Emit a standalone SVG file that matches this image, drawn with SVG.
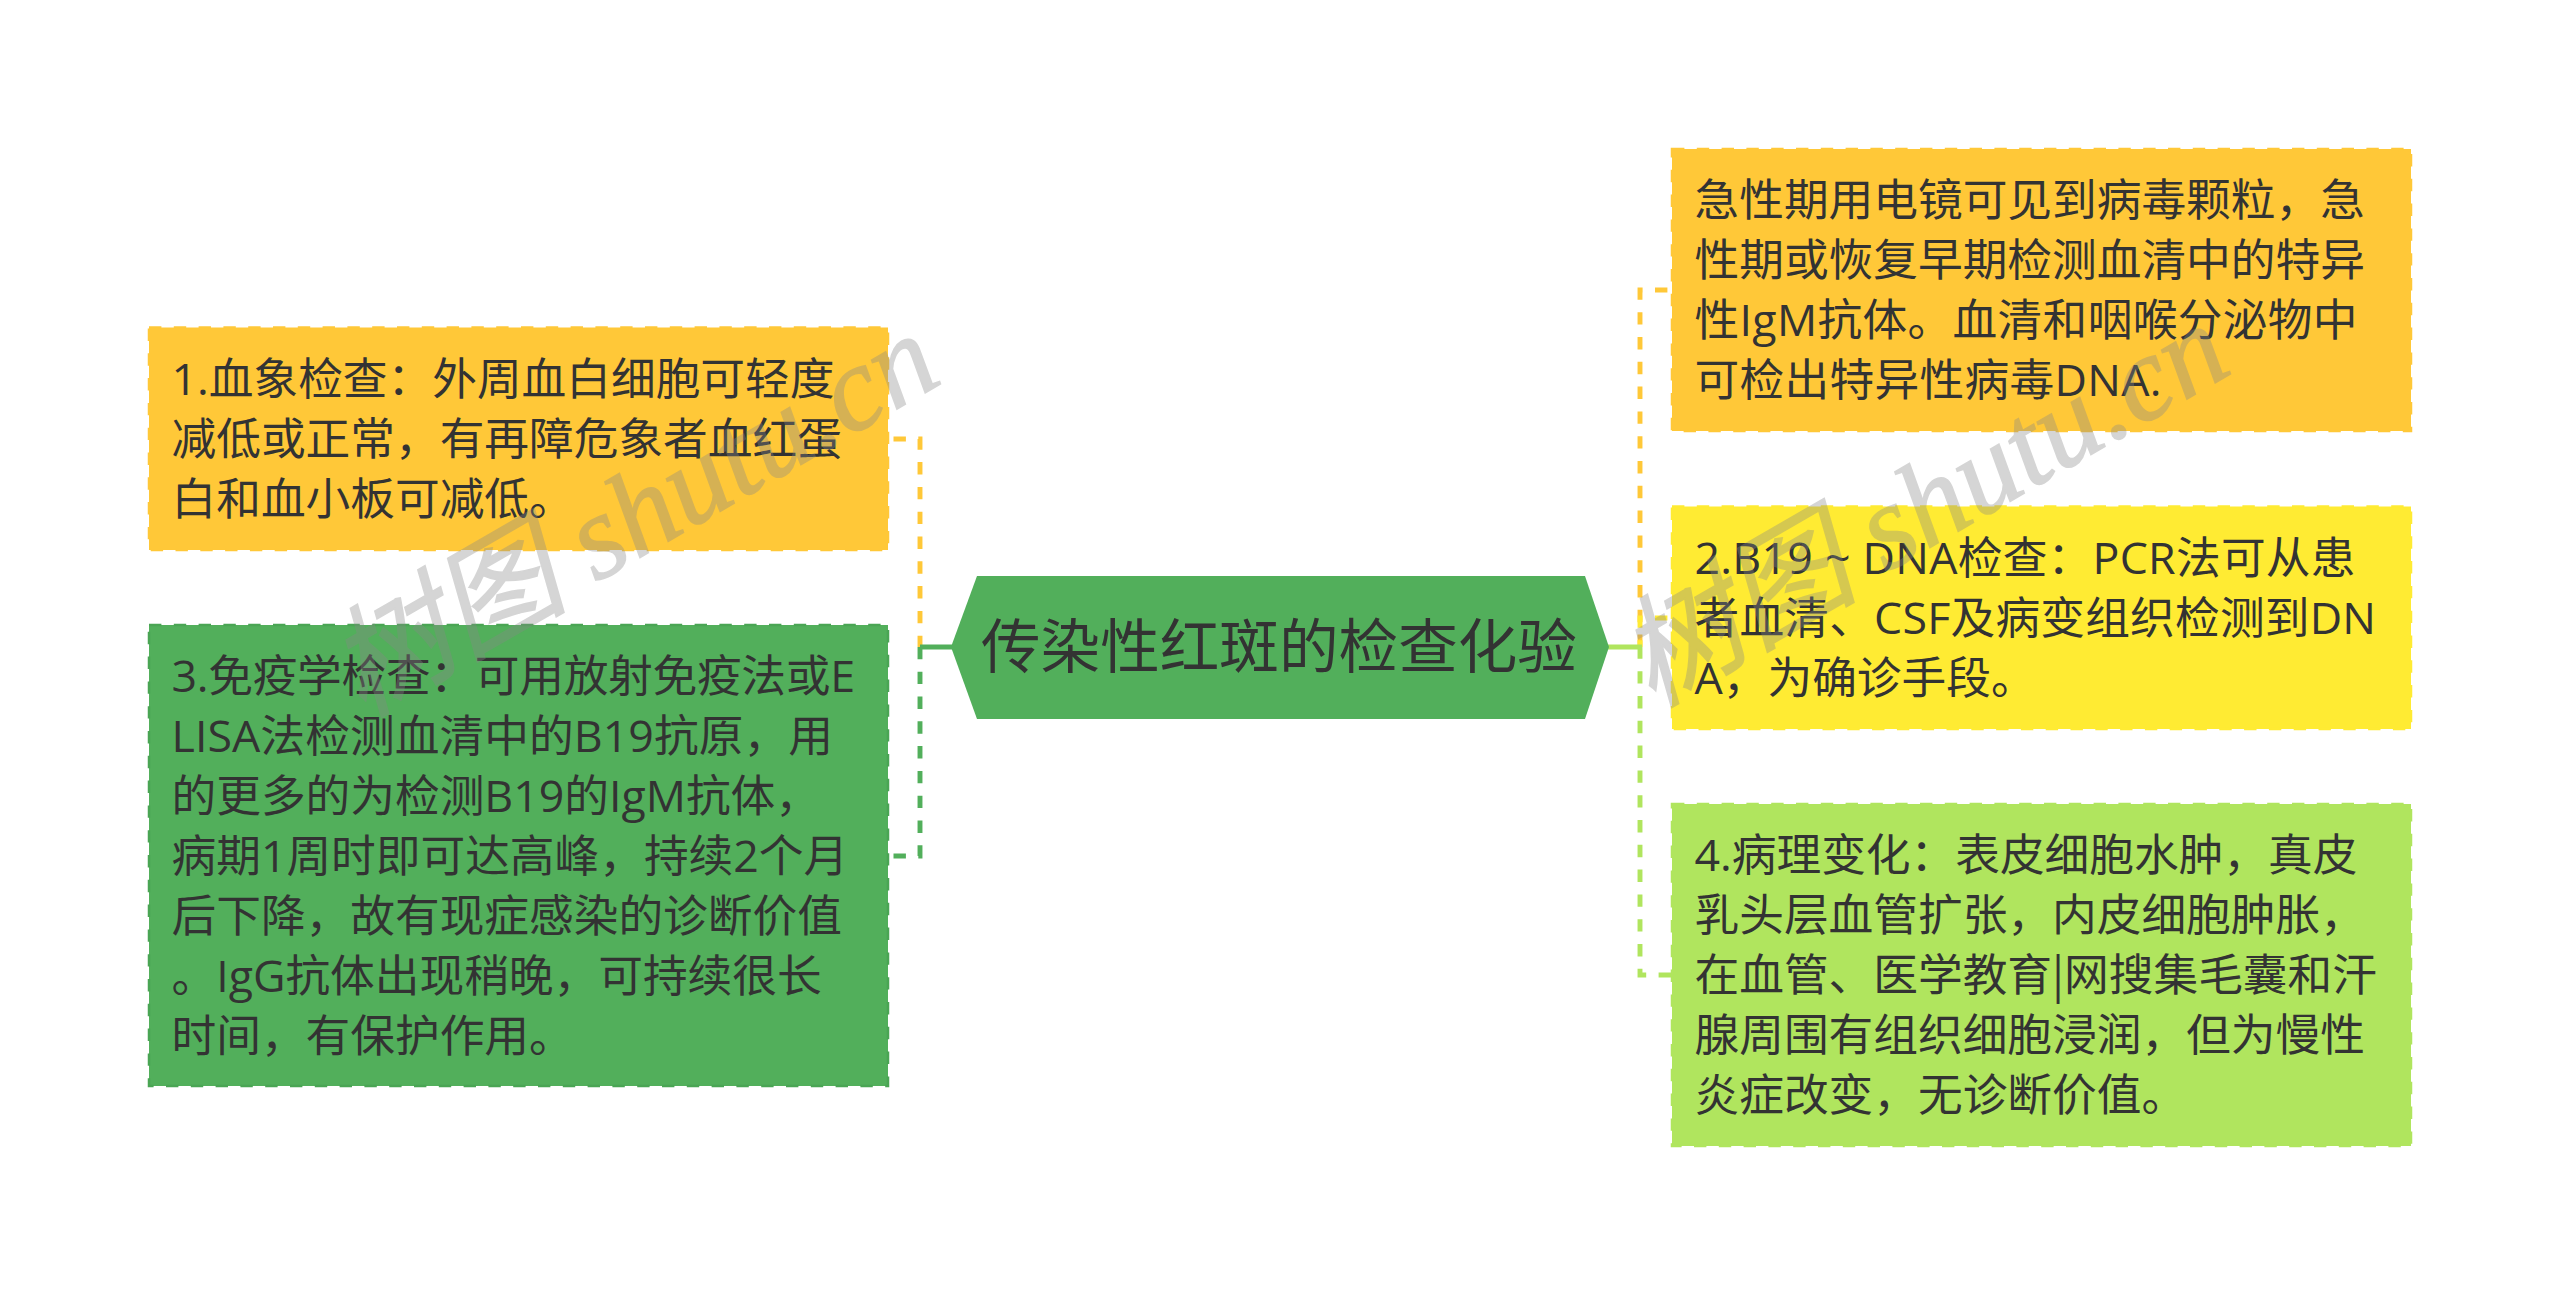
<svg xmlns="http://www.w3.org/2000/svg" width="2560" height="1295" viewBox="0 0 2560 1295">
<style>
text{font-family:"Open Sans","Noto Sans CJK SC",sans-serif;fill:#333;}
.t{font-size:44.7px;}
.c{font-size:59.6px;}
.bar{font-family:"Noto Sans CJK SC",sans-serif;}
.box{stroke-width:2.5;stroke-dasharray:12.4 12.4;}
.link{fill:none;stroke-width:4.9;stroke-dasharray:12.4 12.4;}
.solid{fill:none;stroke-width:4.9;}
.wm{font-family:"Liberation Serif","Noto Sans CJK SC",serif;font-style:italic;font-size:120px;fill:#888;stroke:#888;stroke-width:1.5;opacity:.35;}
</style>
<rect width="2560" height="1295" fill="#fff"/>
<g id="connectors">
<path class="link" stroke="#FFC838" d="M893.5 439H920V647"/>
<path class="link" stroke="#52AF5B" d="M893.5 856H920V647"/>
<path class="solid" stroke="#52AF5B" d="M920 647H953"/>
<path class="link" stroke="#FFC838" d="M1667.4 290H1640V647"/>
<path class="link" stroke="#FFEB33" d="M1667.4 618H1640V647"/>
<path class="link" stroke="#B0E55E" d="M1671 975H1640V647"/>
<path class="solid" stroke="#B0E55E" d="M1607 647H1642"/>
</g>
<g id="root">
<polygon points="951,647 977,576 1585,576 1609,647 1585,719 977,719" fill="#52AF5B"/>
<text class="c" x="981" y="668">传染性红斑的检查化验</text>
</g>
<g id="n1">
<rect class="box" x="149" y="327.5" width="739" height="222.5" fill="#FFC838" stroke="#FFC838"/>
<text class="t" x="171.5" y="395">1.血象检查：外周血白细胞可轻度</text>
<text class="t" x="171.5" y="455">减低或正常，有再障危象者血红蛋</text>
<text class="t" x="171.5" y="515">白和血小板可减低。</text>
</g>
<g id="n3">
<rect class="box" x="149" y="625" width="739" height="461" fill="#52AF5B" stroke="#4AA554"/>
<text class="t" x="171.5" y="692" textLength="683.5">3.免疫学检查：可用放射免疫法或E</text>
<text class="t" x="171.5" y="752" textLength="661.5">LISA法检测血清中的B19抗原，用</text>
<text class="t" x="171.5" y="812">的更多的为检测B19的IgM抗体，</text>
<text class="t" x="171.5" y="872">病期1周时即可达高峰，持续2个月</text>
<text class="t" x="171.5" y="932">后下降，故有现症感染的诊断价值</text>
<text class="t" x="171.5" y="992">。IgG抗体出现稍晚，可持续很长</text>
<text class="t" x="171.5" y="1052">时间，有保护作用。</text>
</g>
<g id="n0">
<rect class="box" x="1672" y="149" width="739" height="282" fill="#FFC838" stroke="#FFC838"/>
<text class="t" x="1694.5" y="216">急性期用电镜可见到病毒颗粒，急</text>
<text class="t" x="1694.5" y="276">性期或恢复早期检测血清中的特异</text>
<text class="t" x="1694.5" y="336" textLength="663">性IgM抗体。血清和咽喉分泌物中</text>
<text class="t" x="1694.5" y="396" textLength="467">可检出特异性病毒DNA.</text>
</g>
<g id="n2">
<rect class="box" x="1672" y="506.5" width="739" height="222.5" fill="#FFEB33" stroke="#FFEB33"/>
<text class="t" x="1694.5" y="574" textLength="661">2.B19 ~ DNA检查：PCR法可从患</text>
<text class="t" x="1694.5" y="634" textLength="681.5">者血清、CSF及病变组织检测到DN</text>
<text class="t" x="1694.5" y="694">A，为确诊手段。</text>
</g>
<g id="n4">
<rect class="box" x="1672" y="804" width="739" height="342" fill="#B0E55E" stroke="#B0E55E"/>
<text class="t" x="1694.5" y="871">4.病理变化：表皮细胞水肿，真皮</text>
<text class="t" x="1694.5" y="931">乳头层血管扩张，内皮细胞肿胀，</text>
<text class="t" x="1694.5" y="991">在血管、医学教育<tspan class="bar">|</tspan>网搜集毛囊和汗</text>
<text class="t" x="1694.5" y="1051">腺周围有组织细胞浸润，但为慢性</text>
<text class="t" x="1694.5" y="1111">炎症改变，无诊断价值。</text>
</g>
<g id="watermark">
<text class="wm" transform="translate(362 718) rotate(-30)">树图 shutu.cn</text>
<text class="wm" transform="translate(1652 708) rotate(-30)">树图 shutu.cn</text>
</g>
</svg>
